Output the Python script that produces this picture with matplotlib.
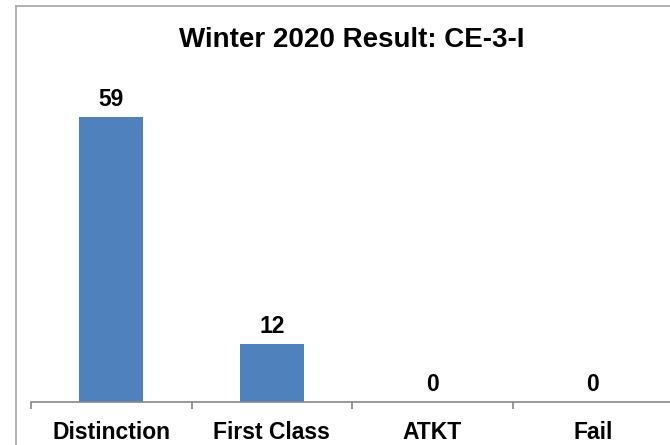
import matplotlib
matplotlib.use("Agg")
import matplotlib.pyplot as plt
from matplotlib.lines import Line2D
import numpy as np

categories = ["Distinction", "First Class", "ATKT", "Fail"]
values = [59, 12, 0, 0]
title = "Winter 2020 Result: CE-3-I"

plt.rcParams['font.family'] = ['Liberation Sans', 'DejaVu Sans']

fig = plt.figure(figsize=(6.7, 4.45), dpi=100)
W, H = 670, 445

# outer chart border (partially outside image)
border_col = "#a6a6a6"
fig.add_artist(Line2D([16 / W, 1.0], [1 - 6 / H, 1 - 6 / H], transform=fig.transFigure, color=border_col, lw=1.2))
fig.add_artist(Line2D([16 / W, 16 / W], [0, 1 - 6 / H], transform=fig.transFigure, color=border_col, lw=1.2))

ax = fig.add_axes([31 / W, 1 - 402 / H, (673 - 31) / W, 70 * 4.83 / H])
x = np.arange(len(categories))
bars = ax.bar(x, values, width=0.4, color="#4F81BD")
ax.set_xlim(-0.5, len(categories) - 0.5)
ax.set_ylim(0, 70)

for xi, v in zip(x, values):
    ax.annotate(str(v), (xi, v), xytext=(0, 4), textcoords="offset points",
                ha="center", va="bottom", fontsize=16.5, fontweight="bold")

for s in ["top", "right", "left"]:
    ax.spines[s].set_visible(False)
ax.spines["bottom"].set_color("#888888")
ax.spines["bottom"].set_linewidth(1.2)
ax.set_yticks([])

ax.set_xticks(np.arange(len(categories) + 1) - 0.5)
ax.set_xticklabels([])
ax.tick_params(axis="x", which="major", length=5, color="#888888", width=1.2, direction="out")
ax.set_xticks(x, minor=True)
ax.set_xticklabels(categories, minor=True, fontsize=16.5, fontweight="bold")
ax.tick_params(axis="x", which="minor", length=0, pad=13.5)

fig.text((31 + 673) / 2 / W, 1 - 40 / H, title, ha="center", va="center",
         fontsize=20, fontweight="bold")

fig.savefig("out.png", dpi=100)
